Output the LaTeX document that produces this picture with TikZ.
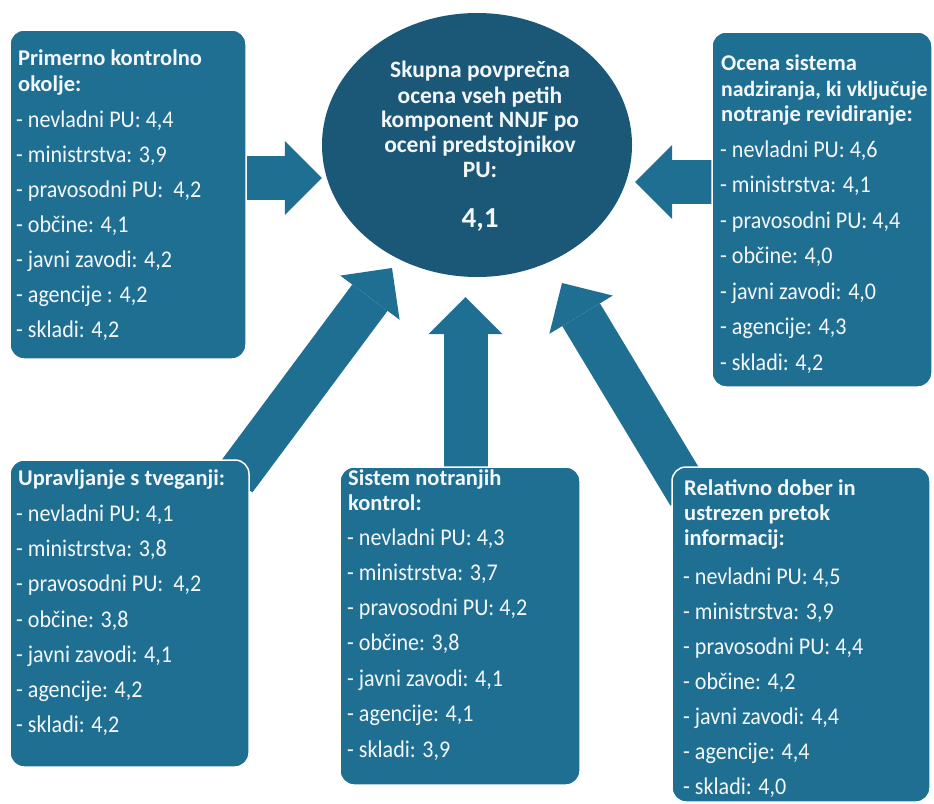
\documentclass[tikz,border=0pt]{standalone}
\usepackage{fontspec}
\setmainfont{Carlito}
\newfontfamily\itemfont[FakeStretch=0.92]{Carlito}
\usetikzlibrary{arrows.meta,shapes.geometric}
\definecolor{boxc}{HTML}{1F6F93}
\definecolor{ellc}{HTML}{1B5878}
\definecolor{txtc}{HTML}{F4F7F9}
\pgfdeclarelayer{back}
\pgfdeclarelayer{bg}
\pgfsetlayers{back,bg,main}
\begin{document}
\begin{tikzpicture}[x=1pt,y=-1pt,
  boxst/.style={rectangle, rounded corners=14pt, fill=boxc, draw=white, line width=1.5pt, inner sep=0pt},
  item/.style={anchor=base west, inner sep=0pt, text=txtc, font=\itemfont\fontsize{24}{28}\selectfont},
  head/.style={anchor=base west, inner sep=0pt, text=txtc, font=\bfseries\fontsize{22.5}{26}\selectfont},
  etxt/.style={anchor=base, inner sep=0pt, text=txtc, font=\bfseries\fontsize{23.5}{25}\selectfont},
  arr/.style={line width=44pt, draw=boxc, -{Triangle[length=37pt,width=74pt,line width=0pt]}}]
\useasboundingbox (0,0) rectangle (934,803);
\begin{pgfonlayer}{back}
\fill[white] (0,0) rectangle (934,803);
\end{pgfonlayer}

% central ellipse
\node[ellipse, fill=ellc, minimum width=310pt, minimum height=264pt, inner sep=0pt] (ell) at (477,145) {};
\node[etxt] (e1) at (480,77) {Skupna povprečna};
\node[etxt] (e2) at (480,103) {ocena vseh petih};
\node[etxt] (e3) at (480,127) {komponent NNJF po};
\node[etxt] (e4) at (480,152) {oceni predstojnikov};
\node[etxt] (e5) at (480,177) {PU:};
\node[etxt, font=\bfseries\fontsize{29}{32}\selectfont] (e6) at (480,227) {4,1};

% boxes
\node[boxst, minimum width=236pt, minimum height=329pt] (b1) at (128,194.5) {};
\node[boxst, minimum width=220pt, minimum height=355pt] (b2) at (822,209.5) {};
\node[boxst, minimum width=239pt, minimum height=307pt] (b3) at (129.5,613.5) {};
\node[boxst, minimum width=240pt, minimum height=318pt] (b4) at (460,626) {};
\node[boxst, minimum width=258pt, minimum height=335pt] (b5) at (801,634.5) {};

% arrows
\begin{pgfonlayer}{bg}
\draw[arr] ([xshift=-5pt,yshift=16.5pt]b1.east) -- ([yshift=-33pt]ell.west);
\draw[arr] ([xshift=5pt,yshift=27.5pt]b2.west) -- ([xshift=3pt,yshift=-37pt]ell.east);
\draw[arr] ([xshift=-15pt,yshift=-20pt]b3.north east) -- ([xshift=-85pt,yshift=-123pt]ell.center);
\draw[arr] ([xshift=5.5pt,yshift=-5pt]b4.north) -- ([xshift=-11.5pt,yshift=-20pt]ell.south);
\draw[arr] ([xshift=18pt,yshift=-28pt]b5.north west) -- ([xshift=85pt,yshift=-138pt]ell.center);
\end{pgfonlayer}

% box 1
\node[head] (b1h1) at (18,65) {Primerno kontrolno};
\node[head] (b1h2) at (18,91) {okolje:};
\node[item] (b1i1) at (16,127) {- nevladni PU: 4,4};
\node[item] (b1i2) at (16,162) {- ministrstva: 3,9};
\node[item] (b1i3) at (16,197) {- pravosodni PU:~ 4,2};
\node[item] (b1i4) at (16,232) {- občine: 4,1};
\node[item] (b1i5) at (16,267) {- javni zavodi: 4,2};
\node[item] (b1i6) at (16,302) {- agencije : 4,2};
\node[item] (b1i7) at (16,337) {- skladi: 4,2};

% box 2
\node[head] (b2h1) at (721,70) {Ocena sistema};
\node[head, font=\bfseries\fontsize{21.8}{26}\selectfont] (b2h2) at (721,96) {nadziranja, ki vključuje};
\node[head] (b2h3) at (721,121) {notranje revidiranje:};
\node[item] (b2i1) at (720,157) {- nevladni PU: 4,6};
\node[item] (b2i2) at (720,192.5) {- ministrstva: 4,1};
\node[item] (b2i3) at (720,228) {- pravosodni PU: 4,4};
\node[item] (b2i4) at (720,263.5) {- občine: 4,0};
\node[item] (b2i5) at (720,299) {- javni zavodi: 4,0};
\node[item] (b2i6) at (720,334.5) {- agencije: 4,3};
\node[item] (b2i7) at (720,370) {- skladi: 4,2};

% box 3
\node[head] (b3h1) at (18,485) {Upravljanje s tveganji:};
\node[item] (b3i1) at (16,521) {- nevladni PU: 4,1};
\node[item] (b3i2) at (16,556) {- ministrstva: 3,8};
\node[item] (b3i3) at (16,591) {- pravosodni PU:~ 4,2};
\node[item] (b3i4) at (16,627) {- občine: 3,8};
\node[item] (b3i5) at (16,662) {- javni zavodi: 4,1};
\node[item] (b3i6) at (16,697) {- agencije: 4,2};
\node[item] (b3i7) at (16,732) {- skladi: 4,2};

% box 4
\node[head] (b4h1) at (348,485) {Sistem notranjih};
\node[head] (b4h2) at (348,510) {kontrol:};
\node[item] (b4i1) at (347,545) {- nevladni PU: 4,3};
\node[item] (b4i2) at (347,580) {- ministrstva: 3,7};
\node[item] (b4i3) at (347,615) {- pravosodni PU: 4,2};
\node[item] (b4i4) at (347,650) {- občine: 3,8};
\node[item] (b4i5) at (347,686) {- javni zavodi: 4,1};
\node[item] (b4i6) at (347,721) {- agencije: 4,1};
\node[item] (b4i7) at (347,757) {- skladi: 3,9};

% box 5
\node[head] (b5h1) at (684,495) {Relativno dober in};
\node[head] (b5h2) at (684,520) {ustrezen pretok};
\node[head] (b5h3) at (684,545) {informacij:};
\node[item] (b5i1) at (683,584) {- nevladni PU: 4,5};
\node[item] (b5i2) at (683,619) {- ministrstva: 3,9};
\node[item] (b5i3) at (683,654) {- pravosodni PU: 4,4};
\node[item] (b5i4) at (683,689) {- občine: 4,2};
\node[item] (b5i5) at (683,724) {- javni zavodi: 4,4};
\node[item] (b5i6) at (683,759) {- agencije: 4,4};
\node[item] (b5i7) at (683,794) {- skladi: 4,0};
\end{tikzpicture}
\end{document}
